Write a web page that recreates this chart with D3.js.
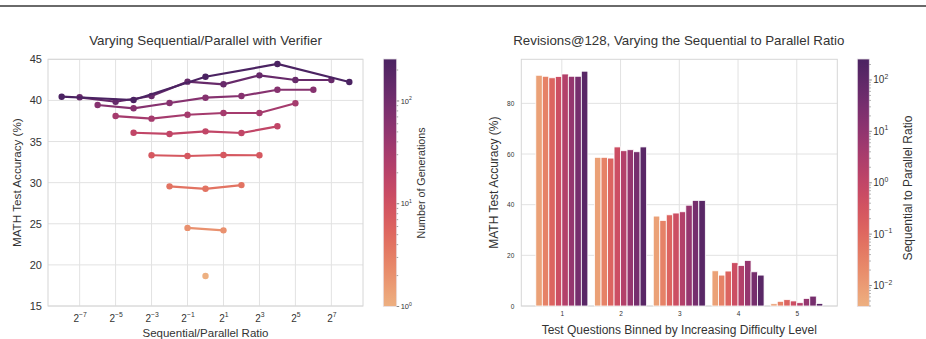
<!DOCTYPE html>
<html>
<head>
<meta charset="utf-8">
<script src="https://cdn.jsdelivr.net/npm/d3@7"></script>
<style>
    body { margin: 0; background: #fff; }
    svg { font-family: "Liberation Sans", Arial, sans-serif; }
    svg text { fill: #333; }
    .grid line { stroke: #e2e2e2; stroke-width: 1; }
    .frame { fill: none; stroke: #d6d6d6; stroke-width: 1; }
</style>
</head>
<body>
<svg id="chart" width="926" height="339"></svg>
<script>

// ---- data: left panel (verifier) ----
const generations = [1, 2, 4, 8, 16, 32, 64, 128, 256];
// log2(sequential/parallel) of each point, one list per generation budget
const ratioExps = [
    [0],
    [-1, 1],
    [-2, 0, 2],
    [-3, -1, 1, 3],
    [-4, -2, 0, 2, 4],
    [-5, -3, -1, 1, 3, 5],
    [-6, -4, -2, 0, 2, 4, 6],
    [-7, -5, -3, -1, 1, 3, 5, 7],
    [-8, -4, 0, 4, 8]
];
const verifierAcc = [
    [18.65],
    [24.5, 24.2],
    [29.55, 29.25, 29.7],
    [33.33, 33.24, 33.36, 33.33],
    [36.07, 35.92, 36.24, 36.04, 36.85],
    [38.1, 37.78, 38.26, 38.47, 38.47, 39.65],
    [39.44, 39.04, 39.69, 40.33, 40.54, 41.3, 41.3],
    [40.38, 39.84, 40.54, 42.28, 41.96, 43.05, 42.48, 42.48],
    [40.45, 40.05, 42.88, 44.43, 42.24]
];
const xTickExps = [-7, -5, -3, -1, 1, 3, 5, 7];
const yTicksLeft = [15, 20, 25, 30, 35, 40, 45];

// ---- data: right panel (revisions@128) ----
const difficultyBins = [1, 2, 3, 4, 5];
const revisionRatios = [1/128, 1/32, 1/8, 1/2, 2, 8, 32, 128];
const revisionAcc = [
    [91.1, 90.7, 90.1, 90.6, 91.6, 90.7, 90.7, 92.7],
    [58.7, 58.7, 58.4, 62.8, 61.3, 61.7, 60.9, 62.8],
    [35.5, 33.8, 36.0, 36.7, 37.2, 39.8, 41.7, 41.7],
    [13.9, 12.2, 13.8, 17.1, 16.0, 18.0, 13.5, 12.2],
    [0.9, 1.85, 2.5, 2.0, 1.3, 3.0, 3.9, 1.0]
];
const yTicksRight = [0, 20, 40, 60, 80];

// seaborn "flare"-like colormap
const flareStops = ["#edb081", "#e98d6b", "#e0695d", "#d04d62", "#b23f6b", "#8f3471", "#6b2b6c", "#4b2362"];
const flare = d3.interpolateRgbBasis(flareStops);

const svg = d3.select("#chart");
const defs = svg.append("defs");

// top rule
svg.append("rect").attr("x", 0).attr("y", 5).attr("width", 926).attr("height", 2).attr("fill", "#6a6a6a");

function supLabel(sel, base, exp, size) {
    sel.text(null);
    sel.append("tspan").text(base);
    sel.append("tspan").attr("dy", -size * 0.45).attr("font-size", size * 0.68).text(exp);
}

function expText(e) {
    return e < 0 ? "\u2212" + Math.abs(e) : "" + e;
}

function drawColorbar(opts) {
    const g = svg.append("g");
    const id = opts.id;
    const grad = defs.append("linearGradient").attr("id", id)
        .attr("x1", 0).attr("y1", 1).attr("x2", 0).attr("y2", 0);
    d3.range(0, 1.0001, 0.05).forEach(t => {
        grad.append("stop").attr("offset", t).attr("stop-color", flare(t));
    });
    g.append("rect")
        .attr("x", opts.x).attr("y", opts.top)
        .attr("width", opts.w).attr("height", opts.bottom - opts.top)
        .attr("fill", `url(#${id})`)
        .attr("stroke", "#e6e0e6").attr("stroke-width", 0.8);

    const s = d3.scaleLog().domain(opts.domain).range([opts.bottom, opts.top]);
    const lo = Math.floor(Math.log10(opts.domain[0])), hi = Math.ceil(Math.log10(opts.domain[1]));
    const minor = [];
    for (let p = lo; p <= hi; p++) {
        for (let k = 2; k <= 9; k++) {
            const v = k * Math.pow(10, p);
            if (v > opts.domain[0] && v < opts.domain[1]) minor.push(v);
        }
    }
    const xr = opts.x + opts.w;
    g.selectAll(".minor").data(minor).enter().append("line")
        .attr("x1", xr).attr("x2", xr + 1.5)
        .attr("y1", d => s(d)).attr("y2", d => s(d))
        .attr("stroke", "#666").attr("stroke-width", 0.6);
    g.selectAll(".major").data(opts.majors).enter().append("line")
        .attr("x1", xr).attr("x2", xr + 2.5)
        .attr("y1", d => s(Math.pow(10, d))).attr("y2", d => s(Math.pow(10, d)))
        .attr("stroke", "#555").attr("stroke-width", 0.7);
    g.selectAll(".lab").data(opts.majors).enter().append("text")
        .attr("x", xr + 4).attr("y", d => s(Math.pow(10, d)) + opts.font * 0.35)
        .attr("font-size", opts.font)
        .each(function(d) { supLabel(d3.select(this), "10", expText(d), opts.font); });

    g.append("text")
        .attr("transform", `translate(${opts.labelX},${opts.labelY}) rotate(-90)`)
        .attr("text-anchor", "middle")
        .attr("font-size", opts.labelFont)
        .text(opts.label);
}

// ================= left panel =================
class VerifierVis {
    constructor() {
        let vis = this;
        vis.left = 48; vis.right = 363; vis.top = 59.3; vis.bottom = 306;
        vis.x = d3.scaleLog().base(2).domain([Math.pow(2, -8.76), Math.pow(2, 8.76)]).range([vis.left, vis.right]);
        vis.y = d3.scaleLinear().domain([15, 45]).range([vis.bottom, vis.top]);
        vis.color = d3.scaleSequentialLog(flare).domain([1, 256]);
        vis.g = svg.append("g");
        vis.draw();
    }

    draw() {
        let vis = this;
        const grid = vis.g.append("g").attr("class", "grid");
        grid.selectAll(".gx").data(xTickExps).enter().append("line")
            .attr("x1", d => vis.x(Math.pow(2, d))).attr("x2", d => vis.x(Math.pow(2, d)))
            .attr("y1", vis.top).attr("y2", vis.bottom);
        grid.selectAll(".gy").data(yTicksLeft).enter().append("line")
            .attr("x1", vis.left).attr("x2", vis.right)
            .attr("y1", d => vis.y(d)).attr("y2", d => vis.y(d));
        vis.g.append("rect").attr("class", "frame")
            .attr("x", vis.left).attr("y", vis.top)
            .attr("width", vis.right - vis.left).attr("height", vis.bottom - vis.top);

        // axes
        const yAxis = vis.g.append("g").attr("transform", `translate(${vis.left},0)`)
            .call(d3.axisLeft(vis.y).tickValues(yTicksLeft).tickSize(0).tickPadding(6));
        yAxis.select(".domain").remove();
        yAxis.selectAll("text").attr("font-size", 11).attr("fill", "#333");

        const xAxis = vis.g.append("g").attr("transform", `translate(0,${vis.bottom})`)
            .call(d3.axisBottom(vis.x).tickValues(xTickExps.map(e => Math.pow(2, e))).tickSize(0).tickPadding(8.5));
        xAxis.select(".domain").remove();
        xAxis.selectAll(".tick text").attr("font-size", 10).attr("fill", "#333")
            .each(function(d, i) { supLabel(d3.select(this), "2", expText(xTickExps[i]), 10); });

        // lines
        const line = d3.line().x(d => vis.x(d.r)).y(d => vis.y(d.acc));
        generations.forEach((n, i) => {
            const pts = ratioExps[i].map((e, j) => ({ r: Math.pow(2, e), acc: verifierAcc[i][j] }));
            const c = vis.color(n);
            vis.g.append("path").datum(pts)
                .attr("d", line).attr("fill", "none")
                .attr("stroke", c).attr("stroke-width", 2.2);
            vis.g.selectAll(null).data(pts).enter().append("circle")
                .attr("cx", d => vis.x(d.r)).attr("cy", d => vis.y(d.acc))
                .attr("r", 3.2).attr("fill", c);
        });

        // labels
        vis.g.append("text").attr("x", (vis.left + vis.right) / 2).attr("y", 45)
            .attr("text-anchor", "middle").attr("font-size", 13.4).text("Varying Sequential/Parallel with Verifier");
        vis.g.append("text").attr("x", (vis.left + vis.right) / 2).attr("y", 336.8)
            .attr("text-anchor", "middle").attr("font-size", 11.5).text("Sequential/Parallel Ratio");
        vis.g.append("text")
            .attr("transform", `translate(21,${(vis.top + vis.bottom) / 2}) rotate(-90)`)
            .attr("text-anchor", "middle").attr("font-size", 11.7).text("MATH Test Accuracy (%)");
    }
}

// ================= right panel =================
class RevisionVis {
    constructor() {
        let vis = this;
        vis.left = 521.3; vis.right = 837.3; vis.top = 59.3; vis.bottom = 306;
        vis.x = d3.scaleLinear().domain([0.31, 5.69]).range([vis.left, vis.right]);
        vis.y = d3.scaleLinear().domain([0, 97.4]).range([vis.bottom, vis.top]);
        vis.color = d3.scaleSequentialLog(flare).domain([1/256, 256]);
        vis.groupWidth = 0.886;
        vis.g = svg.append("g");
        vis.draw();
    }

    draw() {
        let vis = this;
        const grid = vis.g.append("g").attr("class", "grid");
        grid.selectAll(".gx").data(difficultyBins).enter().append("line")
            .attr("x1", d => vis.x(d)).attr("x2", d => vis.x(d))
            .attr("y1", vis.top).attr("y2", vis.bottom);
        grid.selectAll(".gy").data(yTicksRight).enter().append("line")
            .attr("x1", vis.left).attr("x2", vis.right)
            .attr("y1", d => vis.y(d)).attr("y2", d => vis.y(d));
        vis.g.append("rect").attr("class", "frame")
            .attr("x", vis.left).attr("y", vis.top)
            .attr("width", vis.right - vis.left).attr("height", vis.bottom - vis.top);

        const yAxis = vis.g.append("g").attr("transform", `translate(${vis.left},0)`)
            .call(d3.axisLeft(vis.y).tickValues(yTicksRight).tickSize(0).tickPadding(7));
        yAxis.select(".domain").remove();
        yAxis.selectAll("text").attr("font-size", 6.5).attr("fill", "#555");

        const xAxis = vis.g.append("g").attr("transform", `translate(0,${vis.bottom})`)
            .call(d3.axisBottom(vis.x).tickValues(difficultyBins).tickFormat(d3.format("d")).tickSize(0).tickPadding(5));
        xAxis.select(".domain").remove();
        xAxis.selectAll("text").attr("font-size", 6.5).attr("fill", "#555");

        const bw = vis.groupWidth / revisionRatios.length;
        const bars = [];
        difficultyBins.forEach((b, i) => {
            revisionRatios.forEach((r, j) => {
                bars.push({ bin: b, r: r, j: j, acc: revisionAcc[i][j] });
            });
        });
        vis.g.selectAll(".bar").data(bars).enter().append("rect")
            .attr("x", d => vis.x(d.bin - vis.groupWidth / 2 + d.j * bw))
            .attr("width", vis.x(bw) - vis.x(0))
            .attr("y", d => vis.y(d.acc))
            .attr("height", d => vis.y(0) - vis.y(d.acc))
            .attr("fill", d => vis.color(d.r))
            .attr("stroke", "#fff").attr("stroke-width", 0.8);

        vis.g.append("text").attr("x", (vis.left + vis.right) / 2 - 0.5).attr("y", 45)
            .attr("text-anchor", "middle").attr("font-size", 13.3).text("Revisions@128, Varying the Sequential to Parallel Ratio");
        vis.g.append("text").attr("x", (vis.left + vis.right) / 2).attr("y", 334)
            .attr("text-anchor", "middle").attr("font-size", 12).text("Test Questions Binned by Increasing Difficulty Level");
        vis.g.append("text")
            .attr("transform", `translate(498,${(vis.top + vis.bottom) / 2}) rotate(-90)`)
            .attr("text-anchor", "middle").attr("font-size", 12).text("MATH Test Accuracy (%)");
    }
}

new VerifierVis();
new RevisionVis();

drawColorbar({
    id: "cbLeft", x: 383.3, w: 13.4, top: 59, bottom: 306.5,
    domain: [1, 256], majors: [0, 1, 2], font: 7.5,
    label: "Number of Generations", labelX: 425, labelY: 183, labelFont: 10.7
});
drawColorbar({
    id: "cbRight", x: 857.3, w: 12, top: 59, bottom: 306.5,
    domain: [1/256, 256], majors: [-2, -1, 0, 1, 2], font: 10,
    label: "Sequential to Parallel Ratio", labelX: 912, labelY: 188, labelFont: 12
});

</script>
</body>
</html>
